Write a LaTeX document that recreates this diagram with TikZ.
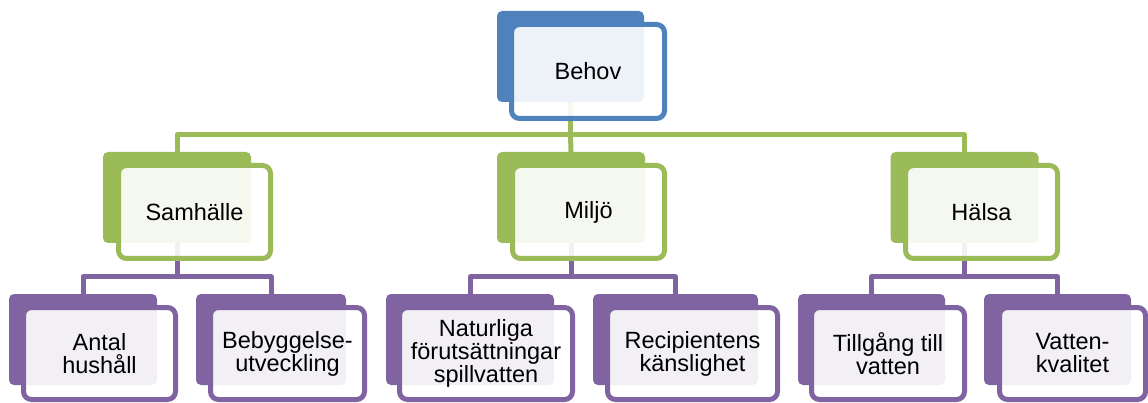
\documentclass[tikz,border=0pt]{standalone}
\usepackage{fontspec}
\setmainfont{Liberation Sans}
\definecolor{cblue}{HTML}{4F81BD}
\definecolor{cgreen}{HTML}{9BBB59}
\definecolor{cpurple}{HTML}{8064A2}
\begin{document}
\begin{tikzpicture}[x=1pt,y=-1pt,
  backbox/.style={fill=#1, draw=none, rounded corners=5pt, minimum height=91pt, inner sep=0pt, outer sep=0pt},
  frontbox/.style={draw=#1, line width=5pt, fill=white, fill opacity=0.9, text opacity=1,
     rounded corners=8pt, inner sep=0pt, outer sep=0pt, align=center,
     font=\fontsize{23.5pt}{23pt}\selectfont},
  conn/.style={draw=#1, line width=5pt, line join=round}
]
\useasboundingbox (0,0) rectangle (1148,403);

% back boxes
\node[backbox=cblue, minimum width=147pt] (behovB) at (570.5,56.5) {};
\node[backbox=cgreen, minimum width=148pt] (samB) at (177,197.5) {};
\node[backbox=cgreen, minimum width=148pt] (milB) at (571,197.5) {};
\node[backbox=cgreen, minimum width=148pt] (halB) at (964.5,197.5) {};
\node[backbox=cpurple, minimum width=148pt] (antB) at (83,339.5) {};
\node[backbox=cpurple, minimum width=150pt] (bebB) at (271,339.5) {};
\node[backbox=cpurple, minimum width=168pt] (natB) at (470,339.5) {};
\node[backbox=cpurple, minimum width=165pt] (recB) at (675.5,339.5) {};
\node[backbox=cpurple, minimum width=147pt] (tilB) at (871.5,339.5) {};
\node[backbox=cpurple, minimum width=147pt] (vatB) at (1057.5,339.5) {};

% connectors
\coordinate (bus1) at (570.5,135);
\draw[conn=cgreen] (behovB.south) -- (bus1);
\draw[conn=cgreen] (samB.north) |- (bus1) -| (halB.north);
\draw[conn=cgreen] (bus1) -- (milB.north);

\coordinate (bus2) at (177,277);
\draw[conn=cpurple] (samB.south) -- (bus2);
\draw[conn=cpurple] (antB.north) |- (bus2) -| (bebB.north);
\coordinate (bus3) at (571,277);
\draw[conn=cpurple] (milB.south) -- (bus3);
\draw[conn=cpurple] (natB.north) |- (bus3) -| (recB.north);
\coordinate (bus4) at (964.5,277);
\draw[conn=cpurple] (halB.south) -- (bus4);
\draw[conn=cpurple] (tilB.north) |- (bus4) -| (vatB.north);

% front boxes
\node[frontbox=cblue, minimum width=153pt, minimum height=94pt] (behov) at (588,71.5) {Behov};
\node[frontbox=cgreen, minimum width=152pt, minimum height=93pt] (sam) at (194.5,212) {Samhälle};
\node[frontbox=cgreen, minimum width=152pt, minimum height=93pt] (mil) at (588.5,212) {Miljö};
\node[frontbox=cgreen, minimum width=152pt, minimum height=93pt] (hal) at (981.5,212) {Hälsa};
\node[frontbox=cpurple, minimum width=152pt, minimum height=92pt] (ant) at (99.5,353.5) {Antal\\hushåll};
\node[frontbox=cpurple, minimum width=154pt, minimum height=92pt] (beb) at (287.5,353.5) {Bebyggelse-\\utveckling};
\node[frontbox=cpurple, minimum width=173pt, minimum height=92pt] (nat) at (486,353.5) {Naturliga\\förutsättningar\\spillvatten};
\node[frontbox=cpurple, minimum width=170pt, minimum height=92pt] (rec) at (692.5,353.5) {Recipientens\\känslighet};
\node[frontbox=cpurple, minimum width=153pt, minimum height=92pt] (til) at (888,353.5) {Tillgång till\\vatten};
\node[frontbox=cpurple, minimum width=146pt, minimum height=92pt] (vat) at (1072.5,353.5) {Vatten-\\kvalitet};
\end{tikzpicture}
\end{document}
